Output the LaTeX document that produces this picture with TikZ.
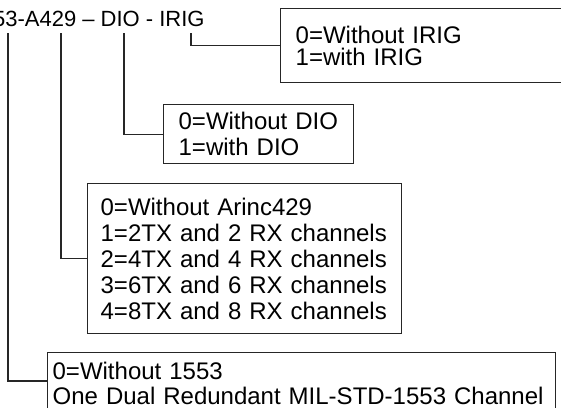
\documentclass[tikz,border=0pt]{standalone}
\usepackage{fontspec}
\setmainfont{Liberation Sans}
\usetikzlibrary{positioning}
\newcommand{\codefont}{\fontsize{11}{12.7}\selectfont}
\newcommand{\optfont}{\fontsize{12}{13}\selectfont}

\begin{document}
\begin{tikzpicture}[
    x=0.5pt, y=-0.5pt,
    optbox/.style={draw=black!85, line width=0.65pt, anchor=north west, align=left, font=\optfont},
    link/.style={draw=black!85, line width=0.6pt}
]
    \useasboundingbox (0,0) rectangle (561,407);
    \node[anchor=base east, font=\codefont, inner sep=0pt] (code) at (205,26) {553-A429 – DIO - IRIG};
    \coordinate (c1553) at (8,33);
    \coordinate (cA429) at (61,33);
    \coordinate (cDIO) at (124,33);
    \coordinate (cIRIG) at (191,33);

    \node[optbox, font=\fontsize{12}{11}\selectfont, minimum height=37pt, inner xsep=7.5pt, text width=200pt] (irig) at (280,8) {0=Without IRIG\\1=with IRIG};
    \node[optbox, minimum height=29.5pt, inner xsep=7.5pt, text width=80pt] (dio) at (163,104) {0=Without DIO\\1=with DIO};
    \node[optbox, minimum height=75pt, inner xsep=6.5pt, text width=144pt] (arinc) at (87,183) {0=Without Arinc429\\1=2TX and 2 RX channels\\2=4TX and 4 RX channels\\3=6TX and 6 RX channels\\4=8TX and 8 RX channels};
    \node[optbox, font=\fontsize{12}{12.6}\selectfont, inner ysep=4.6pt, inner xsep=2.5pt, text width=249pt] (mil) at (47,352) {0=Without 1553\\One Dual Redundant MIL-STD-1553 Channel};

    \draw[link] (c1553) |- ([yshift=-14.5pt]mil.north west);
    \draw[link] (cA429) |- (arinc.west);
    \draw[link] (cDIO) |- (dio.west);
    \draw[link] (cIRIG) |- (irig.west);
\end{tikzpicture}
\end{document}
